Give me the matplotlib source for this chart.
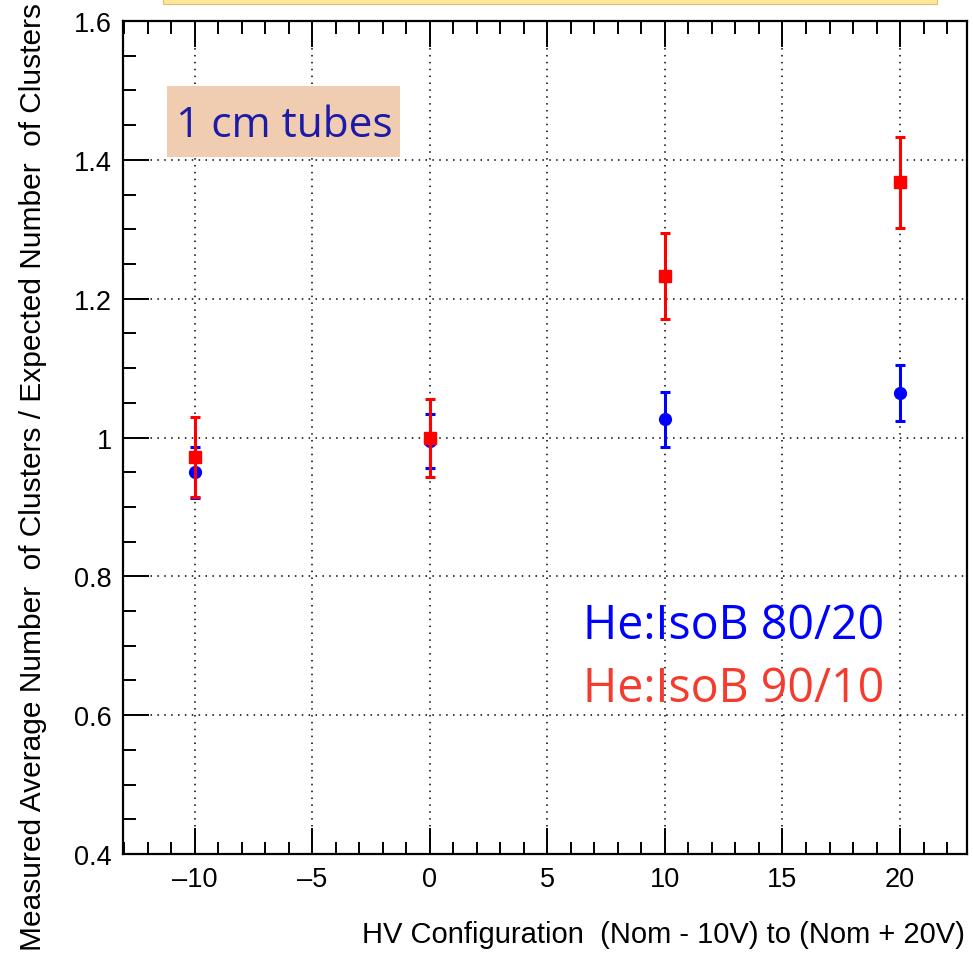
import matplotlib
matplotlib.use("Agg")
import matplotlib.pyplot as plt
from matplotlib.ticker import MultipleLocator, FixedLocator
from matplotlib.patches import Rectangle

# ---- data ----
hv = [-10, 0, 10, 20]
blue_vals = [0.950, 0.995, 1.0265, 1.064]
blue_errs = [0.037, 0.039, 0.0395, 0.040]
red_vals = [0.972, 0.999, 1.233, 1.3675]
red_errs = [0.057, 0.056, 0.062, 0.066]
xticks = [-10, -5, 0, 5, 10, 15, 20]
xticklabels = ["\u201310", "\u20135", "0", "5", "10", "15", "20"]
yticks = [0.4, 0.6, 0.8, 1.0, 1.2, 1.4, 1.6]
yticklabels = ["0.4", "0.6", "0.8", "1", "1.2", "1.4", "1.6"]

W, H = 973, 954
fig = plt.figure(figsize=(W / 100, H / 100), dpi=100)
L, R, T, B = 123, 967, 22, 855
ax = fig.add_axes([L / W, 1 - B / H, (R - L) / W, (B - T) / H])

# top yellow slide bar
fig.patches.append(Rectangle((163 / W, 1 - 5 / H), (937 - 163) / W, 6 / H,
                             transform=fig.transFigure, facecolor="#FFE699",
                             edgecolor="#E0C070", lw=0.8, zorder=0))

ax.set_xlim(-13.06, 22.85)
ax.set_ylim(0.4, 1.6)

ax.errorbar(hv, blue_vals, yerr=blue_errs, fmt="o", color="#0000FF", ms=8.5,
            elinewidth=2.2, capsize=3.5, capthick=2.2, zorder=3)
ax.errorbar(hv, red_vals, yerr=red_errs, fmt="s", color="#FF0000", ms=9,
            elinewidth=2.2, capsize=3.5, capthick=2.2, zorder=4)

ax.xaxis.set_major_locator(FixedLocator(xticks))
ax.xaxis.set_minor_locator(MultipleLocator(1))
ax.yaxis.set_major_locator(FixedLocator(yticks))
ax.yaxis.set_minor_locator(MultipleLocator(0.05))
ax.set_xticklabels(xticklabels)
ax.set_yticklabels(yticklabels)

tickfont = "Liberation Sans"
for lab in ax.get_xticklabels() + ax.get_yticklabels():
    lab.set_fontfamily(tickfont)
    lab.set_fontsize(19.5)

ax.tick_params(axis="x", which="both", direction="in", top=True, bottom=True)
ax.tick_params(axis="y", which="both", direction="in", left=True, right=False)
ax.tick_params(which="major", length=18.5, width=1.4, color="black")
ax.tick_params(which="minor", length=9, width=1.4, color="black")
ax.tick_params(axis="x", which="major", pad=9)
ax.tick_params(axis="y", which="major", pad=8)

for s in ax.spines.values():
    s.set_linewidth(1.6)

ax.grid(True, which="major", color="black", linestyle=(0, (1, 3.5)), lw=1.1, zorder=1)
ax.set_axisbelow(True)

# axis labels
fig.text(965 / W, 1 - 943 / H, "HV Configuration  (Nom - 10V) to (Nom + 20V)",
         ha="right", va="baseline", fontsize=21, family="Liberation Sans")
fig.text(33 / W, 1 - 477 / H,
         "Measured Average Number  of Clusters / Expected Number  of Clusters",
         rotation=90, ha="center", va="center", fontsize=21.5, family="Liberation Sans")

# annotation box
ax.add_patch(Rectangle((167 / W, 1 - 158 / H), (400 - 167) / W, (158 - 87) / H,
                       transform=fig.transFigure, facecolor="#F0CDB1",
                       edgecolor="none", zorder=2))
fig.text(176 / W, 1 - 137 / H, "1 cm tubes", ha="left", va="baseline",
         fontsize=30.5, color="#1B1BA8", family="Open Sans", zorder=5)

fig.text(583 / W, 1 - 639 / H, "He:IsoB 80/20", ha="left", va="baseline",
         fontsize=33.5, color="#0000FF", family="Open Sans")
fig.text(583 / W, 1 - 702 / H, "He:IsoB 90/10", ha="left", va="baseline",
         fontsize=33.5, color="#F53A2E", family="Open Sans")

fig.savefig("out.png", dpi=100)
